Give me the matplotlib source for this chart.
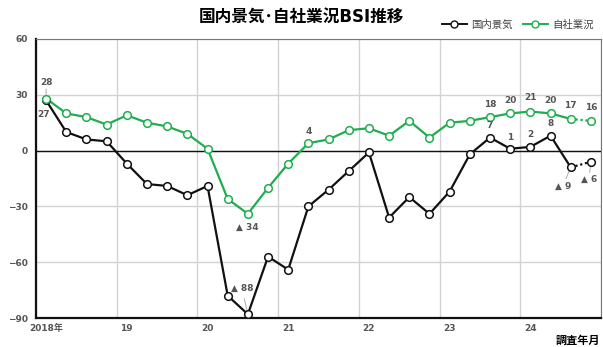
import matplotlib
matplotlib.use("Agg")
import matplotlib.pyplot as plt
from matplotlib.lines import Line2D

plt.rcParams['font.family'] = ['DejaVu Sans', 'Noto Sans CJK JP']

# quarterly survey, 2018 Q1 .. 2024 Q4
years = ['2018年', '19', '20', '21', '22', '23', '24']
domestic = [27, 10, 6, 5, -7, -18, -19, -24, -19, -78, -88, -57, -64, -30,
            -21, -11, -1, -36, -25, -34, -22, -2, 7, 1, 2, 8, -9, -6]
company = [28, 20, 18, 14, 19, 15, 13, 9, 1, -26, -34, -20, -7, 4,
           6, 11, 12, 8, 16, 7, 15, 16, 18, 20, 21, 20, 17, 16]

# which points get a value label and where (offset in pixels, leader line)
domestic_labels = {0: (-3, -14, False), 10: (-6, 26, True), 22: (0, 12, False),
                   23: (0, 11, False), 24: (0, 12, False), 25: (0, 12, False),
                   26: (-8, -19, True), 27: (-2, -18, True)}
company_labels = {0: (0, 16, True), 10: (-1, -14, False), 13: (0, 12, False),
                  22: (0, 13, False), 23: (0, 13, False), 24: (0, 14, False),
                  25: (0, 13, False), 26: (0, 13, False), 27: (0, 13, False)}

GREEN = '#1fae4f'
BLACK = '#111111'

fig = plt.figure(figsize=(6.03, 3.47), dpi=100)
ax = fig.add_axes([36 / 603, 29 / 347, 565 / 603, 279 / 347])

x = [i + 0.5 for i in range(len(domestic))]


def draw_series(vals, color):
    ax.plot(x[:-1], vals[:-1], color=color, lw=1.6, zorder=3)
    ax.plot(x[-2:], vals[-2:], color=color, lw=1.6, ls=(0, (1, 1.2)), zorder=3)
    ax.plot(x, vals, ls='none', marker='o', ms=5.5, mfc='white',
            mec=color, mew=1.1, zorder=4)


def fmt(v):
    return f'▲ {abs(v)}' if v < 0 else f'{v}'


def draw_labels(vals, labels):
    for i, (dx, dy, leader) in labels.items():
        v = vals[i]
        ax.annotate(fmt(v), (x[i], v), xytext=(dx, dy),
                    textcoords='offset pixels', ha='center', va='center',
                    fontsize=6.5, fontweight='bold', color='#555555',
                    zorder=5)
        if leader:
            ax.annotate('', (x[i], v), xytext=(dx * 0.6, dy * 0.6),
                        textcoords='offset pixels',
                        arrowprops=dict(arrowstyle='-', color='#aaaaaa',
                                        lw=0.7, shrinkA=0, shrinkB=3))


draw_series(domestic, BLACK)
draw_series(company, GREEN)
draw_labels(domestic, domestic_labels)
draw_labels(company, company_labels)

ax.set_xlim(0, 28)
ax.set_ylim(-90, 60)
ax.set_yticks([60, 30, 0, -30, -60, -90])
ax.set_xticks(range(0, 29, 4))
ax.set_xticklabels([])
ax.tick_params(length=0, labelsize=6.5, labelcolor='#555555', pad=6)
for lbl in ax.get_yticklabels():
    lbl.set_fontweight('bold')
ax.grid(True, color='#d2d2d2', lw=1)
ax.set_axisbelow(True)
ax.axhline(0, color=BLACK, lw=1, zorder=2)

for i, yr in enumerate(years):
    ax.text(4 * i + 0.5, -93, yr, ha='center', va='top', fontsize=6.5,
            fontweight='bold', color='#555555')

ax.spines['left'].set_color(BLACK)
ax.spines['left'].set_linewidth(1.6)
ax.spines['bottom'].set_color(BLACK)
ax.spines['bottom'].set_linewidth(1.6)
ax.spines['top'].set_color('#777777')
ax.spines['right'].set_color('#777777')

fig.text(0.5, 0.952, '国内景気･自社業況BSI推移', ha='center', va='center',
         fontsize=12, fontweight='bold')

handles = [Line2D([], [], color=BLACK, marker='o', mfc='white', ms=5, lw=1.4),
           Line2D([], [], color=GREEN, marker='o', mfc='white', ms=5, lw=1.4)]
fig.legend(handles, ['国内景気', '自社業況'], ncol=2, frameon=False,
           loc='center right', bbox_to_anchor=(1.0, 0.928), fontsize=7.5,
           handlelength=2.4, columnspacing=1.0, handletextpad=0.4,
           labelcolor='#444444')

fig.text(0.995, 0.02, '調査年月', ha='right', va='center', fontsize=8,
         fontweight='bold')

fig.savefig('out.png', dpi=100)
